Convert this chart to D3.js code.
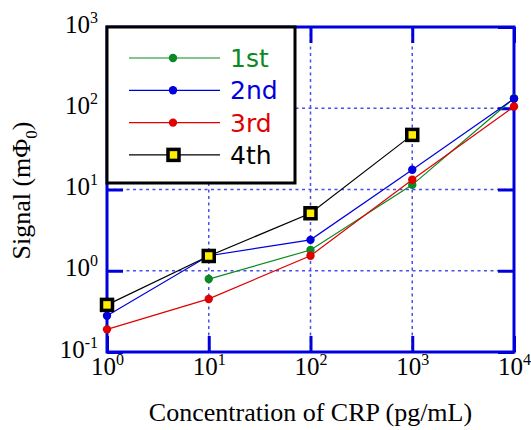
<!DOCTYPE html>
<html>
<head>
<meta charset="utf-8">
<script src="https://cdn.jsdelivr.net/npm/d3@7"></script>
<style>
  body { margin: 0; background: #fff; }
</style>
</head>
<body>
<svg id="drawing_region"></svg>
<script>
// CRP concentration (pg/mL)
const concentrations = [1, 10, 100, 1000, 10000];
// signal (mPhi0) per measurement run, null = not measured
const run1st = [null, 0.79, 1.8, 11.4, 133];
const run2nd = [0.28, 1.53, 2.4, 17.5, 131];
const run3rd = [0.19, 0.45, 1.53, 13.2, 105];
const run4th = [0.38, 1.52, 5.1, 47, null];

const seriesNames = ['1st', '2nd', '3rd', '4th'];
const xTicks = [1, 10, 100, 1000, 10000];
const yTicks = [0.1, 1, 10, 100, 1000];

const config = {
    width: 531,
    height: 430,
    margin: {top: 27, right: 17, bottom: 78, left: 107}
};

const colors = ['#0a8a22', '#0000dd', '#e00000', '#000000'];
const frameColor = '#0000dd';

const series = [run1st, run2nd, run3rd, run4th].map( (vals, i) => ({
    name: seriesNames[i],
    color: colors[i],
    values: concentrations.map( (c, j) => ({x: c, y: vals[j]}) ).filter( d => d.y != null )
}));

const svg = d3.select('#drawing_region')
    .attr('width', config.width)
    .attr('height', config.height);

const inner_width = config.width - config.margin.left - config.margin.right;
const inner_height = config.height - config.margin.top - config.margin.bottom;

const chart = svg.append('g')
    .attr('transform', `translate(${config.margin.left}, ${config.margin.top})`);

const xscale = d3.scaleLog().domain([1, 10000]).range([0, inner_width]);
const yscale = d3.scaleLog().domain([0.1, 1000]).range([inner_height, 0]);

// dotted grid
chart.append('g').selectAll('line')
    .data(xTicks.slice(1, -1))
    .join('line')
    .attr('x1', d => xscale(d)).attr('x2', d => xscale(d))
    .attr('y1', 0).attr('y2', inner_height)
    .attr('stroke', '#4d4dee').attr('stroke-width', 1.5)
    .attr('stroke-dasharray', '3,3.5');

chart.append('g').selectAll('line')
    .data(yTicks.slice(1, -1))
    .join('line')
    .attr('y1', d => yscale(d)).attr('y2', d => yscale(d))
    .attr('x1', 0).attr('x2', inner_width)
    .attr('stroke', '#4d4dee').attr('stroke-width', 1.5)
    .attr('stroke-dasharray', '3,3.5');

// axes with inward ticks
const tickLen = 16;
const xaxis_group = chart.append('g')
    .attr('transform', `translate(0, ${inner_height})`)
    .call( d3.axisBottom(xscale).tickValues(xTicks).tickSizeInner(-tickLen).tickSizeOuter(0) );
const yaxis_group = chart.append('g')
    .call( d3.axisLeft(yscale).tickValues(yTicks).tickSizeInner(-tickLen).tickSizeOuter(0) );
chart.append('g')
    .call( d3.axisTop(xscale).tickValues(xTicks).tickSizeInner(-tickLen).tickSizeOuter(0).tickFormat('') );
chart.append('g')
    .attr('transform', `translate(${inner_width}, 0)`)
    .call( d3.axisRight(yscale).tickValues(yTicks).tickSizeInner(-tickLen).tickSizeOuter(0).tickFormat('') );

chart.selectAll('.domain').remove();
chart.selectAll('.tick line')
    .attr('stroke', frameColor)
    .attr('stroke-width', 3);
chart.selectAll('.tick text').filter( function() { return this.textContent === ''; } ).remove();

function powerLabel(sel, d) {
    const exp = Math.round(Math.log10(d));
    sel.text(null);
    sel.append('tspan').text('10');
    sel.append('tspan').attr('dy', -10).attr('font-size', 16).text(exp);
}

xaxis_group.selectAll('.tick text')
    .attr('y', 23).attr('dy', null)
    .attr('fill', '#000')
    .style('font-family', '"Liberation Serif", "Times New Roman", serif')
    .style('font-size', '25px')
    .each( function(d) { powerLabel(d3.select(this), d); } );

yaxis_group.selectAll('.tick text')
    .attr('x', -9).attr('dy', 5)
    .attr('text-anchor', 'end')
    .attr('fill', '#000')
    .style('font-family', '"Liberation Serif", "Times New Roman", serif')
    .style('font-size', '25px')
    .each( function(d) { powerLabel(d3.select(this), d); } );

// frame
chart.append('rect')
    .attr('width', inner_width).attr('height', inner_height)
    .attr('fill', 'none')
    .attr('stroke', frameColor)
    .attr('stroke-width', 3);

// data lines and markers
const line = d3.line()
    .x( d => xscale(d.x) )
    .y( d => yscale(d.y) );

series.forEach( s => {
    chart.append('path')
        .datum(s.values)
        .attr('fill', 'none')
        .attr('stroke', s.color)
        .attr('stroke-width', 1.2)
        .attr('d', line);
    if (s.name === '4th') {
        chart.selectAll(null)
            .data(s.values)
            .join('rect')
            .attr('x', d => xscale(d.x) - 5.5)
            .attr('y', d => yscale(d.y) - 5.5)
            .attr('width', 11).attr('height', 11)
            .attr('fill', '#ffee00')
            .attr('stroke', '#000')
            .attr('stroke-width', 3.5);
    } else {
        chart.selectAll(null)
            .data(s.values)
            .join('circle')
            .attr('cx', d => xscale(d.x))
            .attr('cy', d => yscale(d.y))
            .attr('r', 4.2)
            .attr('fill', s.color);
    }
});

// legend
const legend = chart.append('g');
legend.append('rect')
    .attr('x', 0).attr('y', 0)
    .attr('width', 188).attr('height', 156)
    .attr('fill', '#fff')
    .attr('stroke', '#000')
    .attr('stroke-width', 3);

series.forEach( (s, i) => {
    const g = legend.append('g')
        .attr('transform', `translate(0, ${31 + i * 32.3})`);
    g.append('line')
        .attr('x1', 22).attr('x2', 113)
        .attr('stroke', s.color).attr('stroke-width', 1.2);
    if (s.name === '4th') {
        g.append('rect')
            .attr('x', 61).attr('y', -5.5)
            .attr('width', 11).attr('height', 11)
            .attr('fill', '#ffee00')
            .attr('stroke', '#000').attr('stroke-width', 3.5);
    } else {
        g.append('circle')
            .attr('cx', 66).attr('r', 4.2)
            .attr('fill', s.color);
    }
    g.append('text')
        .attr('x', 123).attr('y', 9)
        .attr('fill', s.color)
        .style('font-family', '"DejaVu Sans", sans-serif')
        .style('font-size', '25px')
        .text(s.name);
});

// axis titles
svg.append('text')
    .attr('x', config.margin.left + inner_width / 2)
    .attr('y', 421)
    .attr('text-anchor', 'middle')
    .style('font-family', '"Liberation Serif", "Times New Roman", serif')
    .style('font-size', '26px')
    .text('Concentration of CRP (pg/mL)');

const ytitle = svg.append('text')
    .attr('transform', `translate(30, ${config.margin.top + inner_height / 2 + 1}) rotate(-90)`)
    .attr('text-anchor', 'middle')
    .style('font-family', '"Liberation Serif", "Times New Roman", serif')
    .style('font-size', '26px');
ytitle.append('tspan').text('Signal (mΦ');
ytitle.append('tspan').attr('dy', 7).attr('font-size', 17).text('0');
ytitle.append('tspan').attr('dy', -7).text(')');
</script>
</body>
</html>
